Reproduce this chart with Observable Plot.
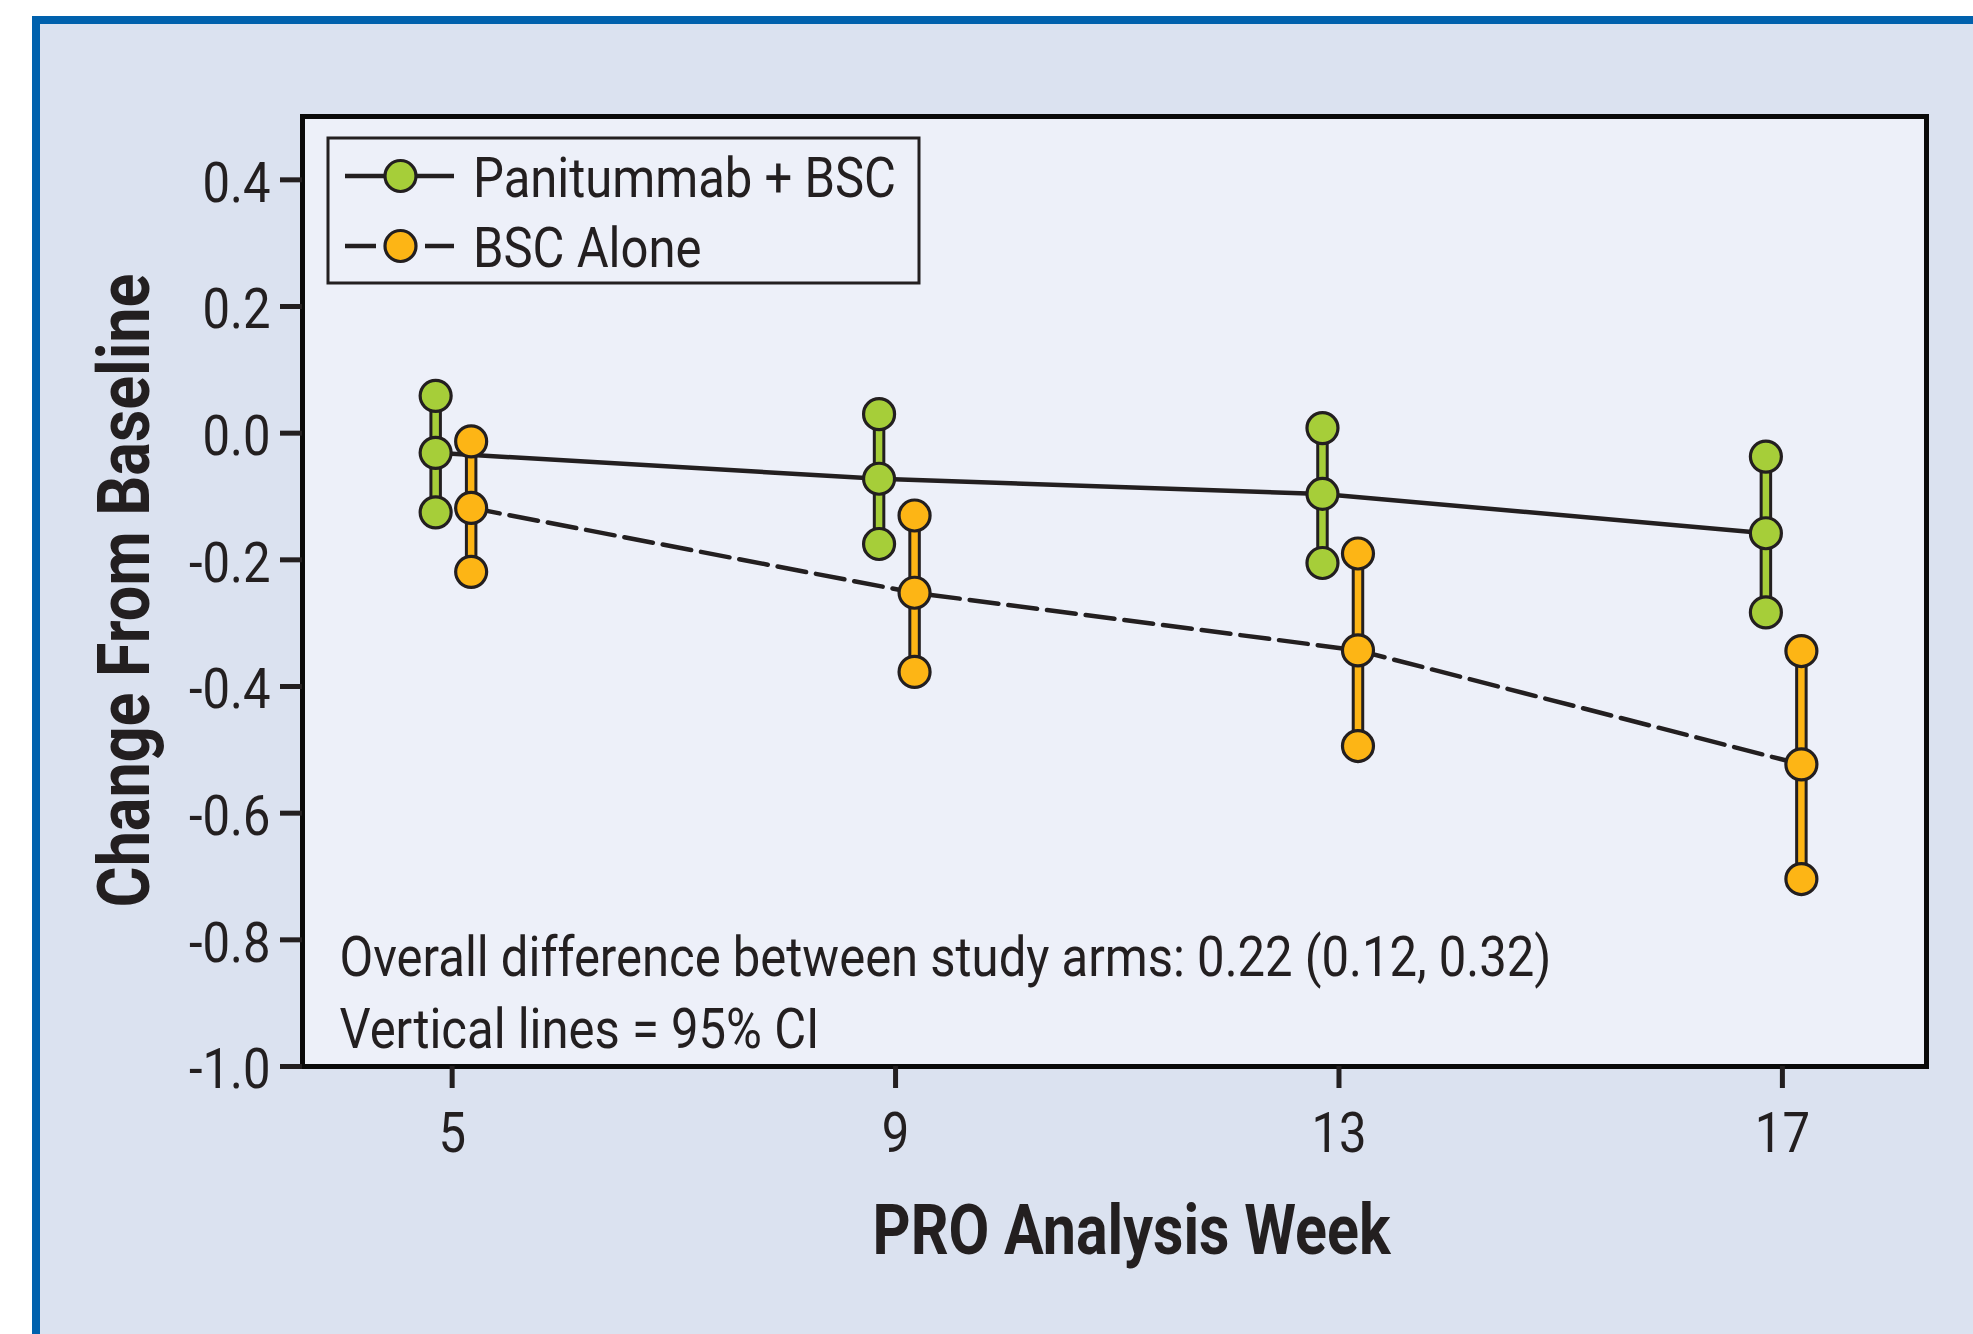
<!DOCTYPE html>
<html><head><meta charset="utf-8">
<script src="https://cdn.jsdelivr.net/npm/d3@7"></script>
<script src="https://cdn.jsdelivr.net/npm/@observablehq/plot@0.6"></script>
<style>
html,body{margin:0;padding:0;background:#fff;width:1973px;height:1334px;overflow:hidden;}
#bg{position:absolute;left:32px;top:16px;right:0;bottom:0;border-left:8px solid #0061ad;border-top:8px solid #0061ad;background:#dbe2f0;}
#chart{position:absolute;left:0;top:0;}
#legend{position:absolute;left:0;top:0;pointer-events:none;}
</style></head><body>
<div id="bg"></div><div id="chart"></div><svg id="legend" width="1973" height="1334"></svg>
<script>
// ---- data ----
const weeks = [5, 9, 13, 17];
const panMean  = [-0.031, -0.072, -0.096, -0.158];
const panLower = [-0.125, -0.175, -0.205, -0.283];
const panUpper = [ 0.059,  0.030,  0.008, -0.037];
const bscMean  = [-0.118, -0.252, -0.343, -0.523];
const bscLower = [-0.219, -0.377, -0.494, -0.704];
const bscUpper = [-0.013, -0.130, -0.190, -0.344];
const seriesNames = ["Panitummab + BSC", "BSC Alone"];
const yTicks = [0.4, 0.2, 0.0, -0.2, -0.4, -0.6, -0.8, -1.0];
const xTicks = [5, 9, 13, 17];
const notes = ["Overall difference between study arms: 0.22 (0.12, 0.32)", "Vertical lines = 95% CI"];
const xTitle = "PRO Analysis Week";
const yTitle = "Change From Baseline";

// ---- styles ----
const DARK = "#231f20", GREEN = "#a6ce39", ORANGE = "#fdb515";
const FONT = 'Roboto, "Liberation Sans", sans-serif';
const DX_PAN = -16.5, DX_BSC = 19;

function measure(str, size, weight) {
  const s = d3.select("body").append("svg").attr("width", 10).attr("height", 10);
  const t = s.append("text").attr("font-family", FONT).attr("font-size", size).attr("font-weight", weight).text(str);
  const w = t.node().getComputedTextLength();
  s.remove();
  return w;
}
// horizontal condensing factors so the installed font matches the condensed original
const F_REG = 423 / measure(seriesNames[0], 56, "normal");
const F_XT = 518 / measure(xTitle, 70, "bold");
const F_YT = 634 / measure(yTitle, 72, "bold");

const rows = (m, lo, up) => weeks.map((w, i) => ({week: w, mean: m[i], lower: lo[i], upper: up[i]}));
const pan = rows(panMean, panLower, panUpper);
const bsc = rows(bscMean, bscLower, bscUpper);
const pts = (r) => r.flatMap(d => [{week: d.week, value: d.lower}, {week: d.week, value: d.mean}, {week: d.week, value: d.upper}]);

const barMarks = (data, dx, color) => [
  Plot.ruleX(data, {x: "week", y1: "lower", y2: "upper", dx, stroke: DARK, strokeWidth: 12.5}),
  Plot.ruleX(data, {x: "week", y1: "lower", y2: "upper", dx, stroke: color, strokeWidth: 6.5}),
];
const dotMarks = (data, dx, color) =>
  Plot.dot(pts(data), {x: "week", y: "value", dx, r: 15.5, fill: color, stroke: DARK, strokeWidth: 3.2});

const plot = Plot.plot({
  width: 1973, height: 1334,
  marginLeft: 302, marginRight: 47, marginTop: 116, marginBottom: 268,
  x: {domain: [3.65, 18.3]},
  y: {domain: [-1, 0.5]},
  style: {background: "transparent", fontFamily: FONT, fontSize: "56px", color: DARK, overflow: "visible"},
  marks: [
    Plot.frame({fill: "#edf0f9", stroke: null}),
    Plot.line(pan, {x: "week", y: "mean", dx: DX_PAN, stroke: DARK, strokeWidth: 4.5}),
    Plot.line(bsc, {x: "week", y: "mean", dx: DX_BSC, stroke: DARK, strokeWidth: 4.5, strokeDasharray: "29,10"}),
    ...barMarks(pan, DX_PAN, GREEN),
    ...barMarks(bsc, DX_BSC, ORANGE),
    dotMarks(pan, DX_PAN, GREEN),
    dotMarks(bsc, DX_BSC, ORANGE),
    Plot.frame({stroke: "#0a0a0a", strokeWidth: 5}),
    Plot.axisY({ticks: yTicks, tickFormat: () => "", tickSize: 22, strokeWidth: 5, label: null}),
    Plot.axisY({ticks: yTicks, tickFormat: d => d.toFixed(1), tickSize: 0, tickPadding: 32, dy: 4, label: null, fill: DARK}),
    Plot.axisX({ticks: xTicks, tickFormat: d => String(d), tickSize: 22, tickPadding: 24, strokeWidth: 5, label: null, fill: DARK}),
    Plot.text([notes[0]], {text: d => d, frameAnchor: "bottom-left", textAnchor: "start", lineAnchor: "bottom", dx: 37, dy: -91, fill: DARK}),
    Plot.text([notes[1]], {text: d => d, frameAnchor: "bottom-left", textAnchor: "start", lineAnchor: "bottom", dx: 37, dy: -19, fill: DARK}),
    Plot.text([xTitle], {text: d => d, frameAnchor: "bottom", lineAnchor: "bottom", dx: 17, dy: 187, fontSize: 70, fontWeight: "bold", fill: DARK}),
    Plot.text([yTitle], {text: d => d, frameAnchor: "left", rotate: -90, lineAnchor: "bottom", textAnchor: "middle", dx: -154, dy: -1, fontSize: 72, fontWeight: "bold", fill: DARK})
  ]
});
document.getElementById("chart").appendChild(plot);

// condense all text horizontally about its anchor
d3.select(plot).selectAll("text").each(function () {
  const s = this.textContent;
  const f = s === xTitle ? F_XT : s === yTitle ? F_YT : F_REG;
  const t = this.getAttribute("transform") || "";
  this.setAttribute("transform", `${t} scale(${f},1)`);
});

// ---- legend ----
const lg = d3.select("#legend");
lg.append("rect").attr("x", 328).attr("y", 138).attr("width", 591).attr("height", 145)
  .attr("fill", "none").attr("stroke", DARK).attr("stroke-width", 3);
const legendItems = [
  {name: seriesNames[0], color: GREEN, dashed: false, y: 176},
  {name: seriesNames[1], color: ORANGE, dashed: true, y: 246}
];
legendItems.forEach(it => {
  const segs = it.dashed ? [[345, 376], [425, 454]] : [[345, 454]];
  segs.forEach(([a, b]) => lg.append("line").attr("x1", a).attr("x2", b).attr("y1", it.y).attr("y2", it.y)
    .attr("stroke", DARK).attr("stroke-width", 4.5));
  lg.append("circle").attr("cx", 400.5).attr("cy", it.y).attr("r", 15.5).attr("fill", it.color).attr("stroke", DARK).attr("stroke-width", 3.2);
  lg.append("text").attr("transform", `translate(473,${it.y + 21}) scale(${F_REG},1)`)
    .attr("font-family", FONT).attr("font-size", 56).attr("fill", DARK).text(it.name);
});
</script>
</body></html>
